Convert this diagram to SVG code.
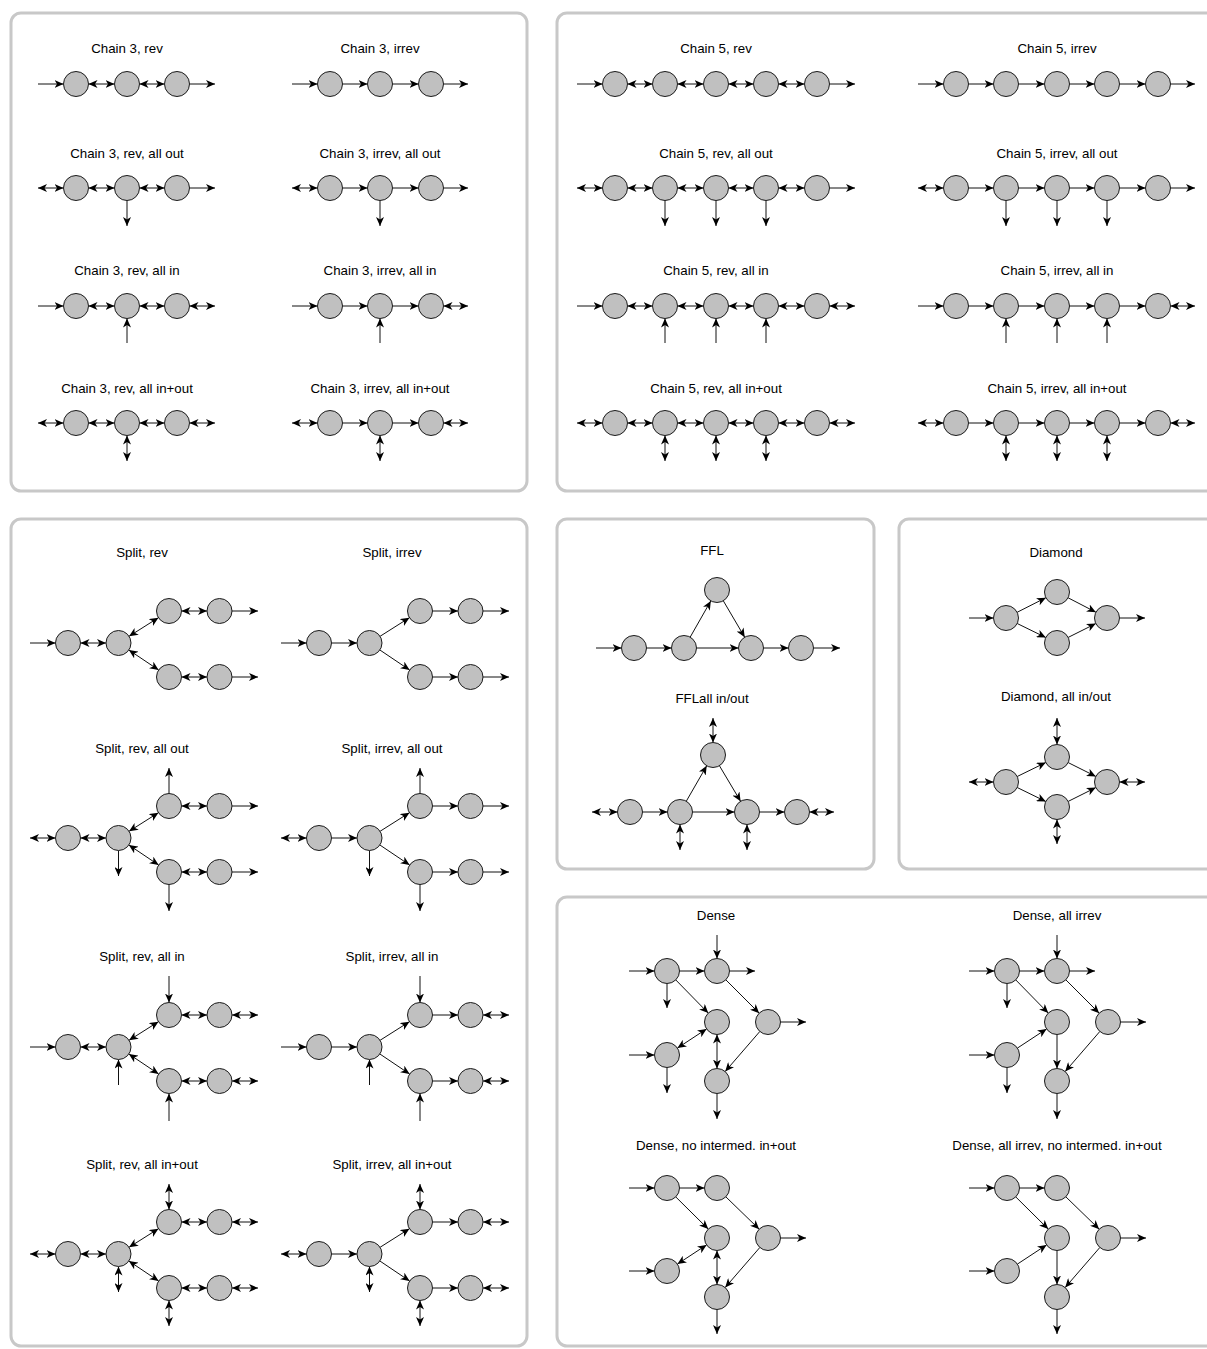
<svg xmlns="http://www.w3.org/2000/svg" width="1207" height="1349" viewBox="0 0 1207 1349">
<defs>
<marker id="ah" viewBox="0 0 9 8" refX="9" refY="4" markerWidth="9" markerHeight="8" markerUnits="userSpaceOnUse" orient="auto-start-reverse"><path d="M0,0 L9,4 L0,8 L2.5,4 z" fill="#000"/></marker>
<style>
.panel{fill:#fff;stroke:#c8c8c8;stroke-width:3}
.n{fill:#c0c0c0;stroke:#1a1a1a;stroke-width:1}
.e{stroke:#111;stroke-width:1;fill:none;marker-end:url(#ah)}
.d{stroke:#111;stroke-width:1;fill:none;marker-start:url(#ah);marker-end:url(#ah)}
.t{font-family:"Liberation Sans",Arial,sans-serif;font-size:13.3px;text-anchor:middle;fill:#000}
</style>
</defs>
<rect width="1207" height="1349" fill="#fff"/>
<g id="panels">
<rect class="panel" x="11" y="13" width="516" height="478" rx="10"/>
<rect class="panel" x="557" y="13" width="680" height="478" rx="10"/>
<rect class="panel" x="11" y="519" width="516" height="827" rx="10"/>
<rect class="panel" x="557" y="519" width="317" height="350" rx="10"/>
<rect class="panel" x="899" y="519" width="330" height="350" rx="10"/>
<rect class="panel" x="557" y="897" width="680" height="449" rx="10"/>
</g>
<g id="titles">
<text class="t" x="127" y="53">Chain 3, rev</text>
<text class="t" x="380" y="53">Chain 3, irrev</text>
<text class="t" x="127" y="158">Chain 3, rev, all out</text>
<text class="t" x="380" y="158">Chain 3, irrev, all out</text>
<text class="t" x="127" y="275">Chain 3, rev, all in</text>
<text class="t" x="380" y="275">Chain 3, irrev, all in</text>
<text class="t" x="127" y="393">Chain 3, rev, all in+out</text>
<text class="t" x="380" y="393">Chain 3, irrev, all in+out</text>
<text class="t" x="716" y="53">Chain 5, rev</text>
<text class="t" x="1057" y="53">Chain 5, irrev</text>
<text class="t" x="716" y="158">Chain 5, rev, all out</text>
<text class="t" x="1057" y="158">Chain 5, irrev, all out</text>
<text class="t" x="716" y="275">Chain 5, rev, all in</text>
<text class="t" x="1057" y="275">Chain 5, irrev, all in</text>
<text class="t" x="716" y="393">Chain 5, rev, all in+out</text>
<text class="t" x="1057" y="393">Chain 5, irrev, all in+out</text>
<text class="t" x="142" y="557">Split, rev</text>
<text class="t" x="392" y="557">Split, irrev</text>
<text class="t" x="142" y="753">Split, rev, all out</text>
<text class="t" x="392" y="753">Split, irrev, all out</text>
<text class="t" x="142" y="961">Split, rev, all in</text>
<text class="t" x="392" y="961">Split, irrev, all in</text>
<text class="t" x="142" y="1169">Split, rev, all in+out</text>
<text class="t" x="392" y="1169">Split, irrev, all in+out</text>
<text class="t" x="712" y="555">FFL</text>
<text class="t" x="712" y="703">FFLall in/out</text>
<text class="t" x="1056" y="557">Diamond</text>
<text class="t" x="1056" y="701">Diamond, all in/out</text>
<text class="t" x="716" y="920">Dense</text>
<text class="t" x="1057" y="920">Dense, all irrev</text>
<text class="t" x="716" y="1150">Dense, no intermed. in+out</text>
<text class="t" x="1057" y="1150">Dense, all irrev, no intermed. in+out</text>
</g>
<g id="connectors">
<!-- Chain 3 rev -->
<line class="e" x1="38" y1="84" x2="63.5" y2="84"/><line class="d" x1="88.5" y1="84" x2="114.5" y2="84"/><line class="d" x1="139.5" y1="84" x2="164.5" y2="84"/><line class="e" x1="189.5" y1="84" x2="215" y2="84"/>
<!-- Chain 3 irrev -->
<line class="e" x1="292" y1="84" x2="317.5" y2="84"/><line class="e" x1="342.5" y1="84" x2="367.5" y2="84"/><line class="e" x1="392.5" y1="84" x2="418.5" y2="84"/><line class="e" x1="443.5" y1="84" x2="468" y2="84"/>
<!-- Chain 3 rev all out -->
<line class="d" x1="38" y1="188" x2="63.5" y2="188"/><line class="d" x1="88.5" y1="188" x2="114.5" y2="188"/><line class="d" x1="139.5" y1="188" x2="164.5" y2="188"/><line class="e" x1="189.5" y1="188" x2="215" y2="188"/><line class="e" x1="127" y1="200.5" x2="127" y2="226"/>
<!-- Chain 3 irrev all out -->
<line class="d" x1="292" y1="188" x2="317.5" y2="188"/><line class="e" x1="342.5" y1="188" x2="367.5" y2="188"/><line class="e" x1="392.5" y1="188" x2="418.5" y2="188"/><line class="e" x1="443.5" y1="188" x2="468" y2="188"/><line class="e" x1="380" y1="200.5" x2="380" y2="226"/>
<!-- Chain 3 rev all in -->
<line class="e" x1="38" y1="306" x2="63.5" y2="306"/><line class="d" x1="88.5" y1="306" x2="114.5" y2="306"/><line class="d" x1="139.5" y1="306" x2="164.5" y2="306"/><line class="d" x1="189.5" y1="306" x2="215" y2="306"/><line class="e" x1="127" y1="343" x2="127" y2="318.5"/>
<!-- Chain 3 irrev all in -->
<line class="e" x1="292" y1="306" x2="317.5" y2="306"/><line class="e" x1="342.5" y1="306" x2="367.5" y2="306"/><line class="e" x1="392.5" y1="306" x2="418.5" y2="306"/><line class="d" x1="443.5" y1="306" x2="468" y2="306"/><line class="e" x1="380" y1="343" x2="380" y2="318.5"/>
<!-- Chain 3 rev all in+out -->
<line class="d" x1="38" y1="423" x2="63.5" y2="423"/><line class="d" x1="88.5" y1="423" x2="114.5" y2="423"/><line class="d" x1="139.5" y1="423" x2="164.5" y2="423"/><line class="d" x1="189.5" y1="423" x2="215" y2="423"/><line class="d" x1="127" y1="435.5" x2="127" y2="461"/>
<!-- Chain 3 irrev all in+out -->
<line class="d" x1="292" y1="423" x2="317.5" y2="423"/><line class="e" x1="342.5" y1="423" x2="367.5" y2="423"/><line class="e" x1="392.5" y1="423" x2="418.5" y2="423"/><line class="d" x1="443.5" y1="423" x2="468" y2="423"/><line class="d" x1="380" y1="435.5" x2="380" y2="461"/>

<!-- Chain 5 rev -->
<line class="e" x1="577" y1="84" x2="602.5" y2="84"/><line class="d" x1="627.5" y1="84" x2="652.5" y2="84"/><line class="d" x1="677.5" y1="84" x2="703.5" y2="84"/><line class="d" x1="728.5" y1="84" x2="753.5" y2="84"/><line class="d" x1="778.5" y1="84" x2="804.5" y2="84"/><line class="e" x1="829.5" y1="84" x2="855" y2="84"/>
<!-- Chain 5 irrev -->
<line class="e" x1="918" y1="84" x2="943.5" y2="84"/><line class="e" x1="968.5" y1="84" x2="993.5" y2="84"/><line class="e" x1="1018.5" y1="84" x2="1044.5" y2="84"/><line class="e" x1="1069.5" y1="84" x2="1094.5" y2="84"/><line class="e" x1="1119.5" y1="84" x2="1145.5" y2="84"/><line class="e" x1="1170.5" y1="84" x2="1195" y2="84"/>
<!-- Chain 5 rev all out -->
<line class="d" x1="577" y1="188" x2="602.5" y2="188"/><line class="d" x1="627.5" y1="188" x2="652.5" y2="188"/><line class="d" x1="677.5" y1="188" x2="703.5" y2="188"/><line class="d" x1="728.5" y1="188" x2="753.5" y2="188"/><line class="d" x1="778.5" y1="188" x2="804.5" y2="188"/><line class="e" x1="829.5" y1="188" x2="855" y2="188"/>
<line class="e" x1="665" y1="200.5" x2="665" y2="226"/><line class="e" x1="716" y1="200.5" x2="716" y2="226"/><line class="e" x1="766" y1="200.5" x2="766" y2="226"/>
<!-- Chain 5 irrev all out -->
<line class="d" x1="918" y1="188" x2="943.5" y2="188"/><line class="e" x1="968.5" y1="188" x2="993.5" y2="188"/><line class="e" x1="1018.5" y1="188" x2="1044.5" y2="188"/><line class="e" x1="1069.5" y1="188" x2="1094.5" y2="188"/><line class="e" x1="1119.5" y1="188" x2="1145.5" y2="188"/><line class="e" x1="1170.5" y1="188" x2="1195" y2="188"/>
<line class="e" x1="1006" y1="200.5" x2="1006" y2="226"/><line class="e" x1="1057" y1="200.5" x2="1057" y2="226"/><line class="e" x1="1107" y1="200.5" x2="1107" y2="226"/>
<!-- Chain 5 rev all in -->
<line class="e" x1="577" y1="306" x2="602.5" y2="306"/><line class="d" x1="627.5" y1="306" x2="652.5" y2="306"/><line class="d" x1="677.5" y1="306" x2="703.5" y2="306"/><line class="d" x1="728.5" y1="306" x2="753.5" y2="306"/><line class="d" x1="778.5" y1="306" x2="804.5" y2="306"/><line class="d" x1="829.5" y1="306" x2="855" y2="306"/>
<line class="e" x1="665" y1="343" x2="665" y2="318.5"/><line class="e" x1="716" y1="343" x2="716" y2="318.5"/><line class="e" x1="766" y1="343" x2="766" y2="318.5"/>
<!-- Chain 5 irrev all in -->
<line class="e" x1="918" y1="306" x2="943.5" y2="306"/><line class="e" x1="968.5" y1="306" x2="993.5" y2="306"/><line class="e" x1="1018.5" y1="306" x2="1044.5" y2="306"/><line class="e" x1="1069.5" y1="306" x2="1094.5" y2="306"/><line class="e" x1="1119.5" y1="306" x2="1145.5" y2="306"/><line class="d" x1="1170.5" y1="306" x2="1195" y2="306"/>
<line class="e" x1="1006" y1="343" x2="1006" y2="318.5"/><line class="e" x1="1057" y1="343" x2="1057" y2="318.5"/><line class="e" x1="1107" y1="343" x2="1107" y2="318.5"/>
<!-- Chain 5 rev all in+out -->
<line class="d" x1="577" y1="423" x2="602.5" y2="423"/><line class="d" x1="627.5" y1="423" x2="652.5" y2="423"/><line class="d" x1="677.5" y1="423" x2="703.5" y2="423"/><line class="d" x1="728.5" y1="423" x2="753.5" y2="423"/><line class="d" x1="778.5" y1="423" x2="804.5" y2="423"/><line class="d" x1="829.5" y1="423" x2="855" y2="423"/>
<line class="d" x1="665" y1="435.5" x2="665" y2="461"/><line class="d" x1="716" y1="435.5" x2="716" y2="461"/><line class="d" x1="766" y1="435.5" x2="766" y2="461"/>
<!-- Chain 5 irrev all in+out -->
<line class="d" x1="918" y1="423" x2="943.5" y2="423"/><line class="e" x1="968.5" y1="423" x2="993.5" y2="423"/><line class="e" x1="1018.5" y1="423" x2="1044.5" y2="423"/><line class="e" x1="1069.5" y1="423" x2="1094.5" y2="423"/><line class="e" x1="1119.5" y1="423" x2="1145.5" y2="423"/><line class="d" x1="1170.5" y1="423" x2="1195" y2="423"/>
<line class="d" x1="1006" y1="435.5" x2="1006" y2="461"/><line class="d" x1="1057" y1="435.5" x2="1057" y2="461"/><line class="d" x1="1107" y1="435.5" x2="1107" y2="461"/>

<!-- Split rev -->
<line class="e" x1="30" y1="643" x2="55.5" y2="643"/><line class="d" x1="80.5" y1="643" x2="106" y2="643"/><line class="d" x1="129.06" y1="636.31" x2="158.44" y2="617.69"/><line class="d" x1="128.87" y1="649.98" x2="158.63" y2="670.02"/><line class="d" x1="181.5" y1="611" x2="207" y2="611"/><line class="d" x1="181.5" y1="677" x2="207" y2="677"/><line class="e" x1="232" y1="611" x2="258" y2="611"/><line class="e" x1="232" y1="677" x2="258" y2="677"/>
<!-- Split irrev -->
<line class="e" x1="281" y1="643" x2="306.5" y2="643"/><line class="e" x1="331.5" y1="643" x2="357" y2="643"/><line class="e" x1="380.06" y1="636.31" x2="409.44" y2="617.69"/><line class="e" x1="379.87" y1="649.98" x2="409.63" y2="670.02"/><line class="e" x1="432.5" y1="611" x2="458" y2="611"/><line class="e" x1="432.5" y1="677" x2="458" y2="677"/><line class="e" x1="483" y1="611" x2="509" y2="611"/><line class="e" x1="483" y1="677" x2="509" y2="677"/>
<!-- Split rev all out -->
<line class="d" x1="30" y1="838" x2="55.5" y2="838"/><line class="d" x1="80.5" y1="838" x2="106" y2="838"/><line class="d" x1="129.06" y1="831.31" x2="158.44" y2="812.69"/><line class="d" x1="128.87" y1="844.98" x2="158.63" y2="865.02"/><line class="d" x1="181.5" y1="806" x2="207" y2="806"/><line class="d" x1="181.5" y1="872" x2="207" y2="872"/><line class="e" x1="232" y1="806" x2="258" y2="806"/><line class="e" x1="232" y1="872" x2="258" y2="872"/>
<line class="e" x1="169" y1="793.5" x2="169" y2="768"/><line class="e" x1="169" y1="884.5" x2="169" y2="911"/><line class="e" x1="118.5" y1="850.5" x2="118.5" y2="876"/>
<!-- Split irrev all out -->
<line class="d" x1="281" y1="838" x2="306.5" y2="838"/><line class="e" x1="331.5" y1="838" x2="357" y2="838"/><line class="e" x1="380.06" y1="831.31" x2="409.44" y2="812.69"/><line class="e" x1="379.87" y1="844.98" x2="409.63" y2="865.02"/><line class="e" x1="432.5" y1="806" x2="458" y2="806"/><line class="e" x1="432.5" y1="872" x2="458" y2="872"/><line class="e" x1="483" y1="806" x2="509" y2="806"/><line class="e" x1="483" y1="872" x2="509" y2="872"/>
<line class="e" x1="420" y1="793.5" x2="420" y2="768"/><line class="e" x1="420" y1="884.5" x2="420" y2="911"/><line class="e" x1="369.5" y1="850.5" x2="369.5" y2="876"/>
<!-- Split rev all in -->
<line class="e" x1="30" y1="1047" x2="55.5" y2="1047"/><line class="d" x1="80.5" y1="1047" x2="106" y2="1047"/><line class="d" x1="129.06" y1="1040.31" x2="158.44" y2="1021.69"/><line class="d" x1="128.87" y1="1053.98" x2="158.63" y2="1074.02"/><line class="d" x1="181.5" y1="1015" x2="207" y2="1015"/><line class="d" x1="181.5" y1="1081" x2="207" y2="1081"/><line class="d" x1="232" y1="1015" x2="258" y2="1015"/><line class="d" x1="232" y1="1081" x2="258" y2="1081"/>
<line class="e" x1="169" y1="976" x2="169" y2="1002.5"/><line class="e" x1="118.5" y1="1085" x2="118.5" y2="1059.5"/><line class="e" x1="169" y1="1121" x2="169" y2="1093.5"/>
<!-- Split irrev all in -->
<line class="e" x1="281" y1="1047" x2="306.5" y2="1047"/><line class="e" x1="331.5" y1="1047" x2="357" y2="1047"/><line class="e" x1="380.06" y1="1040.31" x2="409.44" y2="1021.69"/><line class="e" x1="379.87" y1="1053.98" x2="409.63" y2="1074.02"/><line class="e" x1="432.5" y1="1015" x2="458" y2="1015"/><line class="e" x1="432.5" y1="1081" x2="458" y2="1081"/><line class="d" x1="483" y1="1015" x2="509" y2="1015"/><line class="d" x1="483" y1="1081" x2="509" y2="1081"/>
<line class="e" x1="420" y1="976" x2="420" y2="1002.5"/><line class="e" x1="369.5" y1="1085" x2="369.5" y2="1059.5"/><line class="e" x1="420" y1="1121" x2="420" y2="1093.5"/>
<!-- Split rev all in+out -->
<line class="d" x1="30" y1="1254" x2="55.5" y2="1254"/><line class="d" x1="80.5" y1="1254" x2="106" y2="1254"/><line class="d" x1="129.06" y1="1247.31" x2="158.44" y2="1228.69"/><line class="d" x1="128.87" y1="1260.98" x2="158.63" y2="1281.02"/><line class="d" x1="181.5" y1="1222" x2="207" y2="1222"/><line class="d" x1="181.5" y1="1288" x2="207" y2="1288"/><line class="d" x1="232" y1="1222" x2="258" y2="1222"/><line class="d" x1="232" y1="1288" x2="258" y2="1288"/>
<line class="d" x1="169" y1="1209.5" x2="169" y2="1184"/><line class="d" x1="118.5" y1="1266.5" x2="118.5" y2="1292"/><line class="d" x1="169" y1="1300.5" x2="169" y2="1326"/>
<!-- Split irrev all in+out -->
<line class="d" x1="281" y1="1254" x2="306.5" y2="1254"/><line class="e" x1="331.5" y1="1254" x2="357" y2="1254"/><line class="e" x1="380.06" y1="1247.31" x2="409.44" y2="1228.69"/><line class="e" x1="379.87" y1="1260.98" x2="409.63" y2="1281.02"/><line class="e" x1="432.5" y1="1222" x2="458" y2="1222"/><line class="e" x1="432.5" y1="1288" x2="458" y2="1288"/><line class="d" x1="483" y1="1222" x2="509" y2="1222"/><line class="d" x1="483" y1="1288" x2="509" y2="1288"/>
<line class="d" x1="420" y1="1209.5" x2="420" y2="1184"/><line class="d" x1="369.5" y1="1266.5" x2="369.5" y2="1292"/><line class="d" x1="420" y1="1300.5" x2="420" y2="1326"/>

<!-- FFL -->
<line class="e" x1="596" y1="648" x2="621.5" y2="648"/><line class="e" x1="646.5" y1="648" x2="671.5" y2="648"/><line class="e" x1="696.5" y1="648" x2="738.5" y2="648"/><line class="e" x1="763.5" y1="648" x2="788.5" y2="648"/><line class="e" x1="813.5" y1="648" x2="840" y2="648"/>
<line class="e" x1="690.2" y1="637.1" x2="710.8" y2="600.9"/><line class="e" x1="723.3" y1="600.8" x2="744.7" y2="637.2"/>
<!-- FFL all in/out -->
<line class="d" x1="592" y1="812" x2="617.5" y2="812"/><line class="e" x1="642.5" y1="812" x2="667.5" y2="812"/><line class="e" x1="692.5" y1="812" x2="734.5" y2="812"/><line class="e" x1="759.5" y1="812" x2="784.5" y2="812"/><line class="d" x1="809.5" y1="812" x2="834" y2="812"/>
<line class="e" x1="686.3" y1="801.2" x2="706.7" y2="765.8"/><line class="e" x1="719.4" y1="765.7" x2="740.6" y2="801.3"/>
<line class="d" x1="713" y1="742.5" x2="713" y2="718"/><line class="d" x1="680" y1="824.5" x2="680" y2="850"/><line class="d" x1="747" y1="824.5" x2="747" y2="850"/>

<!-- Diamond -->
<line class="e" x1="969" y1="618" x2="993.5" y2="618"/><line class="e" x1="1119.5" y1="618" x2="1145" y2="618"/>
<line class="e" x1="1017.1" y1="612.3" x2="1045.9" y2="597.7"/><line class="e" x1="1017.2" y1="623.5" x2="1045.8" y2="637.5"/><line class="e" x1="1068.1" y1="597.8" x2="1095.9" y2="612.2"/><line class="e" x1="1068.2" y1="637.4" x2="1095.8" y2="623.6"/>
<!-- Diamond all in/out -->
<line class="d" x1="969" y1="782" x2="993.5" y2="782"/><line class="d" x1="1119.5" y1="782" x2="1145" y2="782"/>
<line class="e" x1="1017.2" y1="776.5" x2="1045.8" y2="762.5"/><line class="e" x1="1017.2" y1="787.5" x2="1045.8" y2="801.5"/><line class="e" x1="1068.2" y1="762.6" x2="1095.8" y2="776.4"/><line class="e" x1="1068.2" y1="801.4" x2="1095.8" y2="787.6"/>
<line class="d" x1="1057" y1="744.5" x2="1057" y2="718"/><line class="d" x1="1057" y1="819.5" x2="1057" y2="844"/>

<!-- Dense -->
<line class="e" x1="629" y1="971" x2="654.5" y2="971"/><line class="e" x1="679.5" y1="971" x2="704.5" y2="971"/><line class="e" x1="717" y1="935" x2="717" y2="958.5"/><line class="e" x1="729.5" y1="971" x2="755" y2="971"/><line class="e" x1="667" y1="983.5" x2="667" y2="1008"/>
<line class="e" x1="675.75" y1="979.9" x2="708.25" y2="1013.1"/><line class="e" x1="725.8" y1="979.8" x2="759.2" y2="1013.2"/><line class="e" x1="780.5" y1="1022" x2="806" y2="1022"/>
<line class="e" x1="629" y1="1055" x2="654.5" y2="1055"/><line class="d" x1="677.4" y1="1048.1" x2="706.6" y2="1028.9"/><line class="e" x1="667" y1="1067.5" x2="667" y2="1093"/>
<line class="d" x1="717" y1="1034.5" x2="717" y2="1068.5"/><line class="e" x1="759.8" y1="1031.5" x2="725.2" y2="1071.5"/><line class="e" x1="717" y1="1093.5" x2="717" y2="1119"/>
<!-- Dense all irrev -->
<line class="e" x1="969" y1="971" x2="994.5" y2="971"/><line class="e" x1="1019.5" y1="971" x2="1044.5" y2="971"/><line class="e" x1="1057" y1="935" x2="1057" y2="958.5"/><line class="e" x1="1069.5" y1="971" x2="1095" y2="971"/><line class="e" x1="1007" y1="983.5" x2="1007" y2="1008"/>
<line class="e" x1="1015.75" y1="979.9" x2="1048.25" y2="1013.1"/><line class="e" x1="1065.8" y1="979.8" x2="1099.2" y2="1013.2"/><line class="e" x1="1120.5" y1="1022" x2="1146" y2="1022"/>
<line class="e" x1="969" y1="1055" x2="994.5" y2="1055"/><line class="e" x1="1017.4" y1="1048.1" x2="1046.6" y2="1028.9"/><line class="e" x1="1007" y1="1067.5" x2="1007" y2="1093"/>
<line class="e" x1="1057" y1="1034.5" x2="1057" y2="1068.5"/><line class="e" x1="1099.8" y1="1031.5" x2="1065.2" y2="1071.5"/><line class="e" x1="1057" y1="1093.5" x2="1057" y2="1119"/>
<!-- Dense no intermed -->
<line class="e" x1="629" y1="1188" x2="654.5" y2="1188"/><line class="e" x1="679.5" y1="1188" x2="704.5" y2="1188"/>
<line class="e" x1="675.75" y1="1196.9" x2="708.25" y2="1229.1"/><line class="e" x1="725.8" y1="1196.8" x2="759.2" y2="1229.2"/><line class="e" x1="780.5" y1="1238" x2="806" y2="1238"/>
<line class="e" x1="629" y1="1271" x2="654.5" y2="1271"/><line class="d" x1="677.4" y1="1264.1" x2="706.6" y2="1244.9"/>
<line class="d" x1="717" y1="1250.5" x2="717" y2="1284.5"/><line class="e" x1="759.8" y1="1247.5" x2="725.2" y2="1287.5"/><line class="e" x1="717" y1="1309.5" x2="717" y2="1334"/>
<!-- Dense all irrev no intermed -->
<line class="e" x1="969" y1="1188" x2="994.5" y2="1188"/><line class="e" x1="1019.5" y1="1188" x2="1044.5" y2="1188"/>
<line class="e" x1="1015.75" y1="1196.9" x2="1048.25" y2="1229.1"/><line class="e" x1="1065.8" y1="1196.8" x2="1099.2" y2="1229.2"/><line class="e" x1="1120.5" y1="1238" x2="1146" y2="1238"/>
<line class="e" x1="969" y1="1271" x2="994.5" y2="1271"/><line class="e" x1="1017.4" y1="1264.1" x2="1046.6" y2="1244.9"/>
<line class="e" x1="1057" y1="1250.5" x2="1057" y2="1284.5"/><line class="e" x1="1099.8" y1="1247.5" x2="1065.2" y2="1287.5"/><line class="e" x1="1057" y1="1309.5" x2="1057" y2="1334"/>
</g>
<g id="nodes">
<g id="c3-rev"><g id="c3r-1"><circle class="n" cx="76" cy="84" r="12.5"/></g><g id="c3r-2"><circle class="n" cx="127" cy="84" r="12.5"/></g><g id="c3r-3"><circle class="n" cx="177" cy="84" r="12.5"/></g></g>
<g id="c3-irrev"><g id="c3i-1"><circle class="n" cx="330" cy="84" r="12.5"/></g><g id="c3i-2"><circle class="n" cx="380" cy="84" r="12.5"/></g><g id="c3i-3"><circle class="n" cx="431" cy="84" r="12.5"/></g></g>
<g id="c3-rev-out"><g id="c3ro-1"><circle class="n" cx="76" cy="188" r="12.5"/></g><g id="c3ro-2"><circle class="n" cx="127" cy="188" r="12.5"/></g><g id="c3ro-3"><circle class="n" cx="177" cy="188" r="12.5"/></g></g>
<g id="c3-irrev-out"><g id="c3io-1"><circle class="n" cx="330" cy="188" r="12.5"/></g><g id="c3io-2"><circle class="n" cx="380" cy="188" r="12.5"/></g><g id="c3io-3"><circle class="n" cx="431" cy="188" r="12.5"/></g></g>
<g id="c3-rev-in"><g id="c3rn-1"><circle class="n" cx="76" cy="306" r="12.5"/></g><g id="c3rn-2"><circle class="n" cx="127" cy="306" r="12.5"/></g><g id="c3rn-3"><circle class="n" cx="177" cy="306" r="12.5"/></g></g>
<g id="c3-irrev-in"><g id="c3in-1"><circle class="n" cx="330" cy="306" r="12.5"/></g><g id="c3in-2"><circle class="n" cx="380" cy="306" r="12.5"/></g><g id="c3in-3"><circle class="n" cx="431" cy="306" r="12.5"/></g></g>
<g id="c3-rev-io"><g id="c3rb-1"><circle class="n" cx="76" cy="423" r="12.5"/></g><g id="c3rb-2"><circle class="n" cx="127" cy="423" r="12.5"/></g><g id="c3rb-3"><circle class="n" cx="177" cy="423" r="12.5"/></g></g>
<g id="c3-irrev-io"><g id="c3ib-1"><circle class="n" cx="330" cy="423" r="12.5"/></g><g id="c3ib-2"><circle class="n" cx="380" cy="423" r="12.5"/></g><g id="c3ib-3"><circle class="n" cx="431" cy="423" r="12.5"/></g></g>

<g id="c5-rev"><g id="c5r-1"><circle class="n" cx="615" cy="84" r="12.5"/></g><g id="c5r-2"><circle class="n" cx="665" cy="84" r="12.5"/></g><g id="c5r-3"><circle class="n" cx="716" cy="84" r="12.5"/></g><g id="c5r-4"><circle class="n" cx="766" cy="84" r="12.5"/></g><g id="c5r-5"><circle class="n" cx="817" cy="84" r="12.5"/></g></g>
<g id="c5-irrev"><g id="c5i-1"><circle class="n" cx="956" cy="84" r="12.5"/></g><g id="c5i-2"><circle class="n" cx="1006" cy="84" r="12.5"/></g><g id="c5i-3"><circle class="n" cx="1057" cy="84" r="12.5"/></g><g id="c5i-4"><circle class="n" cx="1107" cy="84" r="12.5"/></g><g id="c5i-5"><circle class="n" cx="1158" cy="84" r="12.5"/></g></g>
<g id="c5-rev-out"><g id="c5ro-1"><circle class="n" cx="615" cy="188" r="12.5"/></g><g id="c5ro-2"><circle class="n" cx="665" cy="188" r="12.5"/></g><g id="c5ro-3"><circle class="n" cx="716" cy="188" r="12.5"/></g><g id="c5ro-4"><circle class="n" cx="766" cy="188" r="12.5"/></g><g id="c5ro-5"><circle class="n" cx="817" cy="188" r="12.5"/></g></g>
<g id="c5-irrev-out"><g id="c5io-1"><circle class="n" cx="956" cy="188" r="12.5"/></g><g id="c5io-2"><circle class="n" cx="1006" cy="188" r="12.5"/></g><g id="c5io-3"><circle class="n" cx="1057" cy="188" r="12.5"/></g><g id="c5io-4"><circle class="n" cx="1107" cy="188" r="12.5"/></g><g id="c5io-5"><circle class="n" cx="1158" cy="188" r="12.5"/></g></g>
<g id="c5-rev-in"><g id="c5rn-1"><circle class="n" cx="615" cy="306" r="12.5"/></g><g id="c5rn-2"><circle class="n" cx="665" cy="306" r="12.5"/></g><g id="c5rn-3"><circle class="n" cx="716" cy="306" r="12.5"/></g><g id="c5rn-4"><circle class="n" cx="766" cy="306" r="12.5"/></g><g id="c5rn-5"><circle class="n" cx="817" cy="306" r="12.5"/></g></g>
<g id="c5-irrev-in"><g id="c5in-1"><circle class="n" cx="956" cy="306" r="12.5"/></g><g id="c5in-2"><circle class="n" cx="1006" cy="306" r="12.5"/></g><g id="c5in-3"><circle class="n" cx="1057" cy="306" r="12.5"/></g><g id="c5in-4"><circle class="n" cx="1107" cy="306" r="12.5"/></g><g id="c5in-5"><circle class="n" cx="1158" cy="306" r="12.5"/></g></g>
<g id="c5-rev-io"><g id="c5rb-1"><circle class="n" cx="615" cy="423" r="12.5"/></g><g id="c5rb-2"><circle class="n" cx="665" cy="423" r="12.5"/></g><g id="c5rb-3"><circle class="n" cx="716" cy="423" r="12.5"/></g><g id="c5rb-4"><circle class="n" cx="766" cy="423" r="12.5"/></g><g id="c5rb-5"><circle class="n" cx="817" cy="423" r="12.5"/></g></g>
<g id="c5-irrev-io"><g id="c5ib-1"><circle class="n" cx="956" cy="423" r="12.5"/></g><g id="c5ib-2"><circle class="n" cx="1006" cy="423" r="12.5"/></g><g id="c5ib-3"><circle class="n" cx="1057" cy="423" r="12.5"/></g><g id="c5ib-4"><circle class="n" cx="1107" cy="423" r="12.5"/></g><g id="c5ib-5"><circle class="n" cx="1158" cy="423" r="12.5"/></g></g>

<g id="sp-rev"><g id="spr-a"><circle class="n" cx="68" cy="643" r="12.5"/></g><g id="spr-b"><circle class="n" cx="118.5" cy="643" r="12.5"/></g><g id="spr-c1"><circle class="n" cx="169" cy="611" r="12.5"/></g><g id="spr-c2"><circle class="n" cx="219.5" cy="611" r="12.5"/></g><g id="spr-d1"><circle class="n" cx="169" cy="677" r="12.5"/></g><g id="spr-d2"><circle class="n" cx="219.5" cy="677" r="12.5"/></g></g>
<g id="sp-irrev"><g id="spi-a"><circle class="n" cx="319" cy="643" r="12.5"/></g><g id="spi-b"><circle class="n" cx="369.5" cy="643" r="12.5"/></g><g id="spi-c1"><circle class="n" cx="420" cy="611" r="12.5"/></g><g id="spi-c2"><circle class="n" cx="470.5" cy="611" r="12.5"/></g><g id="spi-d1"><circle class="n" cx="420" cy="677" r="12.5"/></g><g id="spi-d2"><circle class="n" cx="470.5" cy="677" r="12.5"/></g></g>
<g id="sp-rev-out"><g id="spro-a"><circle class="n" cx="68" cy="838" r="12.5"/></g><g id="spro-b"><circle class="n" cx="118.5" cy="838" r="12.5"/></g><g id="spro-c1"><circle class="n" cx="169" cy="806" r="12.5"/></g><g id="spro-c2"><circle class="n" cx="219.5" cy="806" r="12.5"/></g><g id="spro-d1"><circle class="n" cx="169" cy="872" r="12.5"/></g><g id="spro-d2"><circle class="n" cx="219.5" cy="872" r="12.5"/></g></g>
<g id="sp-irrev-out"><g id="spio-a"><circle class="n" cx="319" cy="838" r="12.5"/></g><g id="spio-b"><circle class="n" cx="369.5" cy="838" r="12.5"/></g><g id="spio-c1"><circle class="n" cx="420" cy="806" r="12.5"/></g><g id="spio-c2"><circle class="n" cx="470.5" cy="806" r="12.5"/></g><g id="spio-d1"><circle class="n" cx="420" cy="872" r="12.5"/></g><g id="spio-d2"><circle class="n" cx="470.5" cy="872" r="12.5"/></g></g>
<g id="sp-rev-in"><g id="sprn-a"><circle class="n" cx="68" cy="1047" r="12.5"/></g><g id="sprn-b"><circle class="n" cx="118.5" cy="1047" r="12.5"/></g><g id="sprn-c1"><circle class="n" cx="169" cy="1015" r="12.5"/></g><g id="sprn-c2"><circle class="n" cx="219.5" cy="1015" r="12.5"/></g><g id="sprn-d1"><circle class="n" cx="169" cy="1081" r="12.5"/></g><g id="sprn-d2"><circle class="n" cx="219.5" cy="1081" r="12.5"/></g></g>
<g id="sp-irrev-in"><g id="spin-a"><circle class="n" cx="319" cy="1047" r="12.5"/></g><g id="spin-b"><circle class="n" cx="369.5" cy="1047" r="12.5"/></g><g id="spin-c1"><circle class="n" cx="420" cy="1015" r="12.5"/></g><g id="spin-c2"><circle class="n" cx="470.5" cy="1015" r="12.5"/></g><g id="spin-d1"><circle class="n" cx="420" cy="1081" r="12.5"/></g><g id="spin-d2"><circle class="n" cx="470.5" cy="1081" r="12.5"/></g></g>
<g id="sp-rev-io"><g id="sprb-a"><circle class="n" cx="68" cy="1254" r="12.5"/></g><g id="sprb-b"><circle class="n" cx="118.5" cy="1254" r="12.5"/></g><g id="sprb-c1"><circle class="n" cx="169" cy="1222" r="12.5"/></g><g id="sprb-c2"><circle class="n" cx="219.5" cy="1222" r="12.5"/></g><g id="sprb-d1"><circle class="n" cx="169" cy="1288" r="12.5"/></g><g id="sprb-d2"><circle class="n" cx="219.5" cy="1288" r="12.5"/></g></g>
<g id="sp-irrev-io"><g id="spib-a"><circle class="n" cx="319" cy="1254" r="12.5"/></g><g id="spib-b"><circle class="n" cx="369.5" cy="1254" r="12.5"/></g><g id="spib-c1"><circle class="n" cx="420" cy="1222" r="12.5"/></g><g id="spib-c2"><circle class="n" cx="470.5" cy="1222" r="12.5"/></g><g id="spib-d1"><circle class="n" cx="420" cy="1288" r="12.5"/></g><g id="spib-d2"><circle class="n" cx="470.5" cy="1288" r="12.5"/></g></g>

<g id="ffl"><g id="ffl-1"><circle class="n" cx="634" cy="648" r="12.5"/></g><g id="ffl-2"><circle class="n" cx="684" cy="648" r="12.5"/></g><g id="ffl-top"><circle class="n" cx="717" cy="590" r="12.5"/></g><g id="ffl-3"><circle class="n" cx="751" cy="648" r="12.5"/></g><g id="ffl-4"><circle class="n" cx="801" cy="648" r="12.5"/></g></g>
<g id="ffl-io"><g id="fflb-1"><circle class="n" cx="630" cy="812" r="12.5"/></g><g id="fflb-2"><circle class="n" cx="680" cy="812" r="12.5"/></g><g id="fflb-top"><circle class="n" cx="713" cy="755" r="12.5"/></g><g id="fflb-3"><circle class="n" cx="747" cy="812" r="12.5"/></g><g id="fflb-4"><circle class="n" cx="797" cy="812" r="12.5"/></g></g>

<g id="diamond"><g id="dia-l"><circle class="n" cx="1006" cy="618" r="12.5"/></g><g id="dia-t"><circle class="n" cx="1057" cy="592" r="12.5"/></g><g id="dia-b"><circle class="n" cx="1057" cy="643" r="12.5"/></g><g id="dia-r"><circle class="n" cx="1107" cy="618" r="12.5"/></g></g>
<g id="diamond-io"><g id="diab-l"><circle class="n" cx="1006" cy="782" r="12.5"/></g><g id="diab-t"><circle class="n" cx="1057" cy="757" r="12.5"/></g><g id="diab-b"><circle class="n" cx="1057" cy="807" r="12.5"/></g><g id="diab-r"><circle class="n" cx="1107" cy="782" r="12.5"/></g></g>

<g id="dense"><g id="dn-1"><circle class="n" cx="667" cy="971" r="12.5"/></g><g id="dn-2"><circle class="n" cx="717" cy="971" r="12.5"/></g><g id="dn-3"><circle class="n" cx="717" cy="1022" r="12.5"/></g><g id="dn-4"><circle class="n" cx="768" cy="1022" r="12.5"/></g><g id="dn-5"><circle class="n" cx="667" cy="1055" r="12.5"/></g><g id="dn-6"><circle class="n" cx="717" cy="1081" r="12.5"/></g></g>
<g id="dense-irrev"><g id="di-1"><circle class="n" cx="1007" cy="971" r="12.5"/></g><g id="di-2"><circle class="n" cx="1057" cy="971" r="12.5"/></g><g id="di-3"><circle class="n" cx="1057" cy="1022" r="12.5"/></g><g id="di-4"><circle class="n" cx="1108" cy="1022" r="12.5"/></g><g id="di-5"><circle class="n" cx="1007" cy="1055" r="12.5"/></g><g id="di-6"><circle class="n" cx="1057" cy="1081" r="12.5"/></g></g>
<g id="dense-ni"><g id="dni-1"><circle class="n" cx="667" cy="1188" r="12.5"/></g><g id="dni-2"><circle class="n" cx="717" cy="1188" r="12.5"/></g><g id="dni-3"><circle class="n" cx="717" cy="1238" r="12.5"/></g><g id="dni-4"><circle class="n" cx="768" cy="1238" r="12.5"/></g><g id="dni-5"><circle class="n" cx="667" cy="1271" r="12.5"/></g><g id="dni-6"><circle class="n" cx="717" cy="1297" r="12.5"/></g></g>
<g id="dense-irrev-ni"><g id="dii-1"><circle class="n" cx="1007" cy="1188" r="12.5"/></g><g id="dii-2"><circle class="n" cx="1057" cy="1188" r="12.5"/></g><g id="dii-3"><circle class="n" cx="1057" cy="1238" r="12.5"/></g><g id="dii-4"><circle class="n" cx="1108" cy="1238" r="12.5"/></g><g id="dii-5"><circle class="n" cx="1007" cy="1271" r="12.5"/></g><g id="dii-6"><circle class="n" cx="1057" cy="1297" r="12.5"/></g></g>
</g>
</svg>
